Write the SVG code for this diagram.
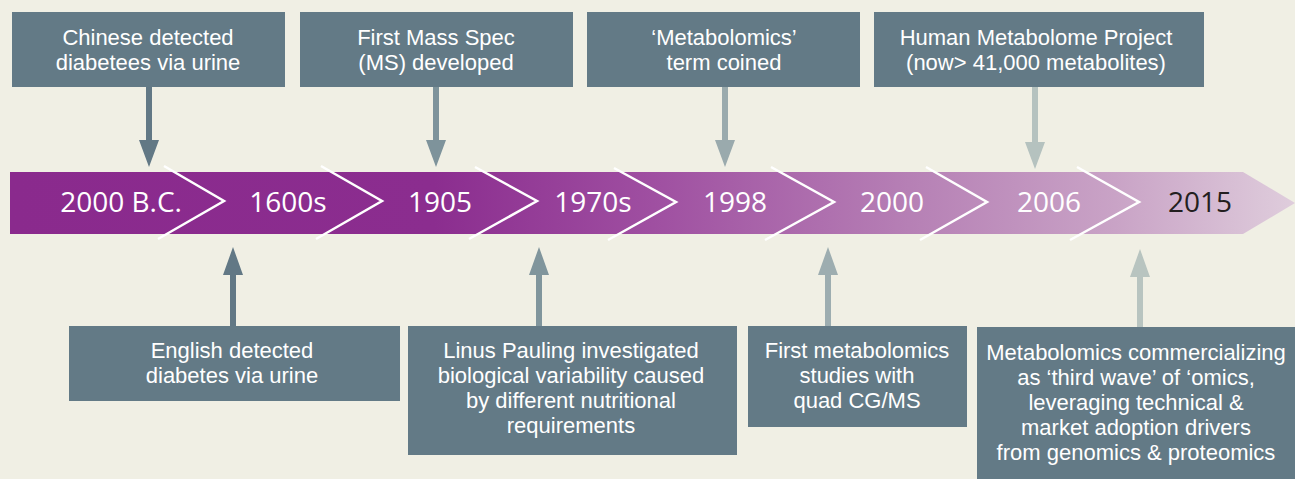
<svg xmlns="http://www.w3.org/2000/svg" width="1295" height="479" viewBox="0 0 1295 479">
<defs>
<linearGradient id="band" gradientUnits="userSpaceOnUse" x1="10" y1="0" x2="1295" y2="0">
<stop offset="0" stop-color="#8a2a8d"/>
<stop offset="0.33" stop-color="#8b2d8f"/>
<stop offset="0.5" stop-color="#9f4fa1"/>
<stop offset="0.7" stop-color="#b680b5"/>
<stop offset="0.86" stop-color="#c9a3c6"/>
<stop offset="1" stop-color="#dfcddc"/>
</linearGradient>
</defs>
<style>
.box{fill:#637a86}
.bt{font-family:"Liberation Sans",Arial,sans-serif;font-size:22px;fill:#ffffff;text-anchor:middle}
.yr{font-family:"Open Sans","Noto Sans",sans-serif;font-size:28px;fill:#ffffff;text-anchor:middle}
.chev{fill:none;stroke:#ffffff;stroke-width:2.5}
</style>
<rect x="0" y="0" width="1295" height="479" fill="#f0efe4"/>
<g id="band-group">
<polygon points="10,172 1243,172 1295,203 1243,234 10,234" fill="url(#band)"/>
<polyline class="chev" points="164,166 224,201 158,239"/>
<polyline class="chev" points="321,166 382,201 316,239"/>
<polyline class="chev" points="475,167 537,201 469,239"/>
<polyline class="chev" points="614,168 676,202 608,240"/>
<polyline class="chev" points="771,167 834,202 765,240"/>
<polyline class="chev" points="926,167 987,202 920,240"/>
<polyline class="chev" points="1077,167 1139,202 1070,240"/>
<text class="yr" x="121" y="212">2000 B.C.</text>
<text class="yr" x="288" y="212">1600s</text>
<text class="yr" x="440" y="212">1905</text>
<text class="yr" x="593" y="212">1970s</text>
<text class="yr" x="735" y="212">1998</text>
<text class="yr" x="892" y="212">2000</text>
<text class="yr" x="1049" y="212">2006</text>
<text class="yr" x="1200" y="212" style="fill:#231f20">2015</text>
</g>
<g id="connectors">
<path d="M146,87 L152,87 L152,140 L159,140 L149,167 L139,140 L146,140 Z" fill="#627885"/>
<path d="M433,87 L439,87 L439,140 L446,140 L436,167 L426,140 L433,140 Z" fill="#7e939b"/>
<path d="M722,87 L728,87 L728,140 L735,140 L725,167 L715,140 L722,140 Z" fill="#9aaaad"/>
<path d="M1032,87 L1038,87 L1038,142 L1045,142 L1035,169 L1025,142 L1032,142 Z" fill="#b5c2bf"/>
<path d="M230,326 L236,326 L236,275 L243,275 L233,247 L223,275 L230,275 Z" fill="#627885"/>
<path d="M536,326 L542,326 L542,275 L549,275 L539,247 L529,275 L536,275 Z" fill="#80959c"/>
<path d="M825,326 L831,326 L831,275 L838,275 L828,247 L818,275 L825,275 Z" fill="#9dadb0"/>
<path d="M1137,327 L1143,327 L1143,277 L1150,277 L1140,249 L1130,277 L1137,277 Z" fill="#b8c4c0"/>
</g>
<g id="n-chinese">
<rect class="box" x="12" y="12" width="273" height="75"/>
<text class="bt" x="148" y="45">Chinese detected</text>
<text class="bt" x="148" y="70">diabetees via urine</text>
</g>
<g id="n-massspec">
<rect class="box" x="300" y="12" width="273" height="75"/>
<text class="bt" x="436" y="45">First Mass Spec</text>
<text class="bt" x="436" y="70">(MS) developed</text>
</g>
<g id="n-term">
<rect class="box" x="587" y="12" width="273" height="75"/>
<text class="bt" x="724" y="45">‘Metabolomics’</text>
<text class="bt" x="724" y="70">term coined</text>
</g>
<g id="n-hmp">
<rect class="box" x="874" y="12" width="330" height="75"/>
<text class="bt" x="1036" y="45">Human Metabolome Project</text>
<text class="bt" x="1036" y="70">(now&gt; 41,000 metabolites)</text>
</g>
<g id="n-english">
<rect class="box" x="69" y="326" width="331" height="75"/>
<text class="bt" x="232" y="358">English detected</text>
<text class="bt" x="232" y="383">diabetes via urine</text>
</g>
<g id="n-pauling">
<rect class="box" x="408" y="326" width="329" height="129"/>
<text class="bt" x="571" y="358">Linus Pauling investigated</text>
<text class="bt" x="571" y="383">biological variability caused</text>
<text class="bt" x="571" y="408">by different nutritional</text>
<text class="bt" x="571" y="433">requirements</text>
</g>
<g id="n-quad">
<rect class="box" x="748" y="326" width="219" height="101"/>
<text class="bt" x="857" y="358">First metabolomics</text>
<text class="bt" x="857" y="383">studies with</text>
<text class="bt" x="857" y="408">quad CG/MS</text>
</g>
<g id="n-commercial">
<rect class="box" x="977" y="327" width="318" height="152"/>
<text class="bt" x="1136" y="360">Metabolomics commercializing</text>
<text class="bt" x="1136" y="385">as ‘third wave’ of ‘omics,</text>
<text class="bt" x="1136" y="410">leveraging technical &amp;</text>
<text class="bt" x="1136" y="435">market adoption drivers</text>
<text class="bt" x="1136" y="460">from genomics &amp; proteomics</text>
</g>
</svg>
